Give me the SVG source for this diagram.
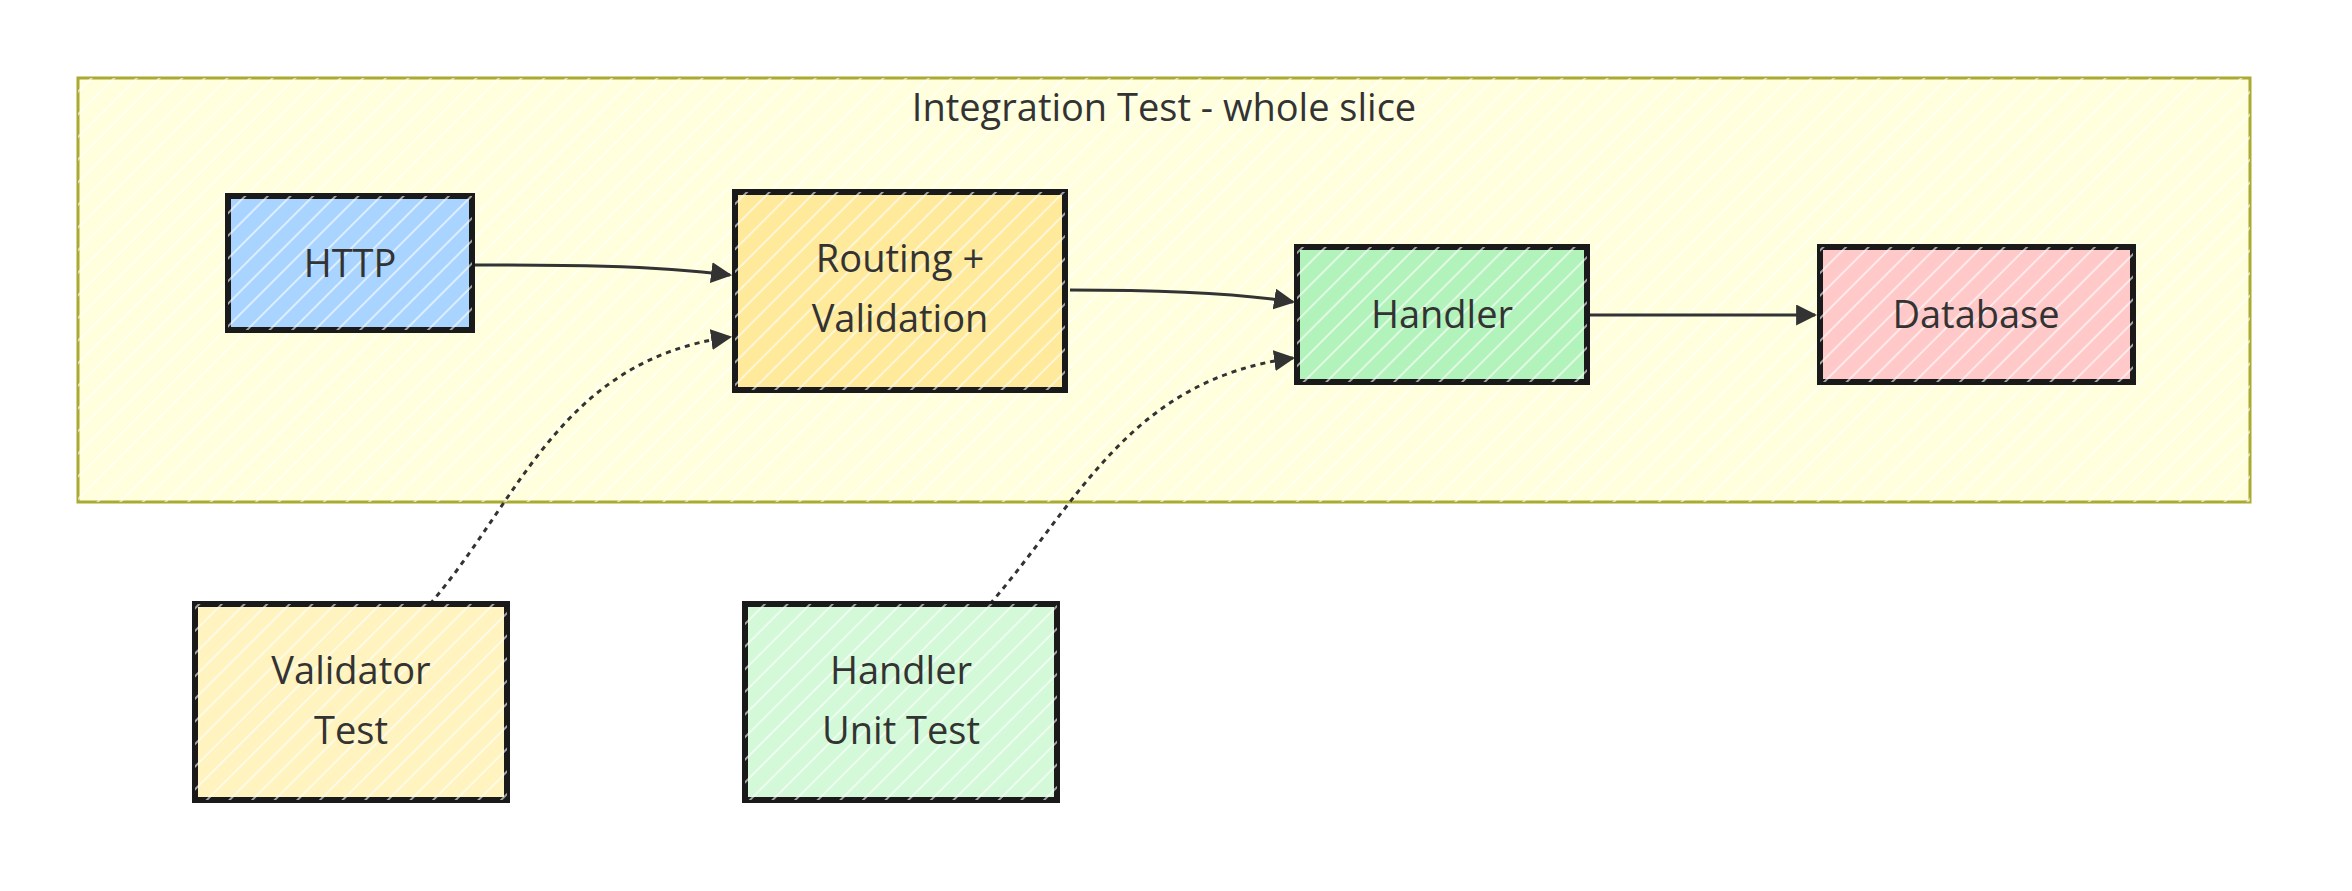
<svg xmlns="http://www.w3.org/2000/svg" width="2352" height="891" viewBox="0 0 2352 891">
<style>
.t{font-family:"Open Sans","Liberation Sans",sans-serif;font-size:38px;fill:#333;text-anchor:middle}
.n{stroke:#1a1a1a;stroke-width:6}
.e{fill:none;stroke:#333;stroke-width:3}
.d{stroke-dasharray:5 5}
</style>
<defs>
<marker id="a" viewBox="0 0 10 10" refX="9" refY="5" markerWidth="7" markerHeight="7" orient="auto"><path d="M0,0L10,5L0,10z" fill="#333"/></marker>
<pattern id="h" width="16" height="16" patternUnits="userSpaceOnUse" patternTransform="rotate(-45)"><line x1="0" y1="8" x2="16" y2="8" stroke="#fff" stroke-width="2" opacity="0.6"/></pattern>
</defs>
<rect width="2352" height="891" fill="#fff"/>
<g id="cluster">
<rect x="78" y="78" width="2172" height="424" fill="#ffffde" stroke="#aaaa33" stroke-width="3"/>
<rect x="78" y="78" width="2172" height="424" fill="url(#h)"/>
<text class="t" x="1164" y="121">Integration Test - whole slice</text>
</g>
<g id="edges">
<path class="e" d="M472,265 C560,265 650,265 730,275" marker-end="url(#a)"/>
<path class="e" d="M1070,290 C1150,290 1230,292 1293,302" marker-end="url(#a)"/>
<path class="e" d="M1590,315 L1815,315" marker-end="url(#a)"/>
<path class="e d" d="M430,604 C520,500 560,360 730,337" marker-end="url(#a)"/>
<path class="e d" d="M990,604 C1080,500 1130,380 1293,358" marker-end="url(#a)"/>
</g>
<g id="http"><rect class="n" x="228" y="196" width="244" height="134" fill="#a8d4ff"/><rect x="228" y="196" width="244" height="134" fill="url(#h)"/><text class="t" x="350" y="277">HTTP</text></g>
<g id="routing"><rect class="n" x="735" y="192" width="330" height="198" fill="#ffe99a"/><rect x="735" y="192" width="330" height="198" fill="url(#h)"/><text class="t" x="900" y="272">Routing +</text><text class="t" x="900" y="332">Validation</text></g>
<g id="handler"><rect class="n" x="1297" y="247" width="290" height="135" fill="#b2f2bb"/><rect x="1297" y="247" width="290" height="135" fill="url(#h)"/><text class="t" x="1442" y="328">Handler</text></g>
<g id="database"><rect class="n" x="1820" y="247" width="313" height="135" fill="#ffc9c9"/><rect x="1820" y="247" width="313" height="135" fill="url(#h)"/><text class="t" x="1976" y="328">Database</text></g>
<g id="validator"><rect class="n" x="195" y="604" width="312" height="196" fill="#fff3bf"/><rect x="195" y="604" width="312" height="196" fill="url(#h)"/><text class="t" x="351" y="684">Validator</text><text class="t" x="351" y="744">Test</text></g>
<g id="unittest"><rect class="n" x="745" y="604" width="312" height="196" fill="#d3f9d8"/><rect x="745" y="604" width="312" height="196" fill="url(#h)"/><text class="t" x="901" y="684">Handler</text><text class="t" x="901" y="744">Unit Test</text></g>
</svg>
